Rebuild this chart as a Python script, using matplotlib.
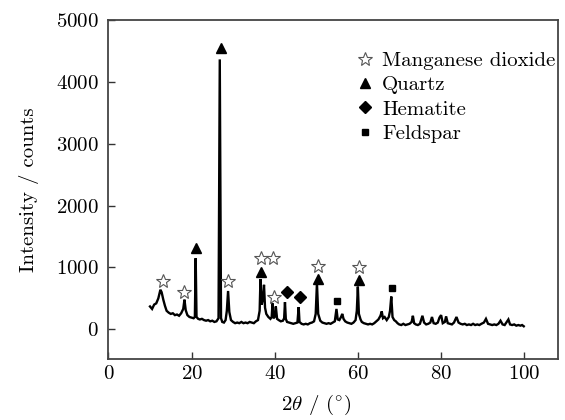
import matplotlib
matplotlib.use("Agg")
import matplotlib.pyplot as plt
from matplotlib.lines import Line2D

plt.rcParams['font.family'] = ['cmr10', 'DejaVu Serif']
plt.rcParams['mathtext.fontset'] = 'cm'
plt.rcParams['axes.formatter.use_mathtext'] = True
plt.rcParams['axes.unicode_minus'] = False

# XRD pattern
two_theta = [10.0, 10.5, 11.0, 11.5, 12.0, 12.5, 12.8, 13.2, 13.6, 14.0, 14.5, 15.0, 15.5, 16.0,
             16.5, 17.0, 17.5, 18.0, 18.3, 18.6, 19.0, 19.5, 20.0, 20.5, 20.8, 21.0, 21.2, 21.6,
             22.0, 22.5, 23.0, 23.5, 24.0, 24.5, 25.0, 25.5, 26.0, 26.5, 26.8, 27.1, 27.4, 27.8,
             28.2, 28.5, 28.8, 29.1, 29.5, 30.0, 30.5, 31.0, 31.5, 32.0, 32.5, 33.0, 33.5, 34.0,
             34.5, 35.0, 35.5, 36.0, 36.4, 36.6, 36.9, 37.2, 37.45, 37.7, 38.0, 38.5, 39.0, 39.3,
             39.5, 39.7, 40.0, 40.3, 40.6, 41.0, 41.5, 42.0, 42.3, 42.5, 42.7, 43.0, 43.5, 44.0,
             44.5, 45.0, 45.5, 45.8, 46.0, 46.5, 47.0, 47.5, 48.0, 48.5, 49.0, 49.5, 49.9, 50.2,
             50.5, 51.0, 51.5, 52.0, 52.5, 53.0, 53.5, 54.0, 54.5, 54.9, 55.2, 55.6, 56.0, 56.3,
             56.6, 57.0, 57.5, 58.0, 58.5, 59.0, 59.5, 59.8, 60.05, 60.3, 60.7, 61.0, 61.5, 62.0,
             62.5, 63.0, 63.5, 64.0, 64.5, 65.0, 65.5, 65.8, 66.1, 66.5, 67.0, 67.5, 67.8, 68.1,
             68.4, 68.8, 69.2, 69.6, 70.0, 70.5, 71.0, 71.5, 72.0, 72.5, 73.0, 73.3, 73.6, 74.0,
             74.5, 75.0, 75.6, 76.0, 76.5, 77.0, 77.5, 77.9, 78.3, 78.8, 79.3, 79.7, 80.1, 80.5,
             81.0, 81.3, 81.7, 82.2, 82.7, 83.2, 83.8, 84.3, 84.8, 85.3, 85.8, 86.3, 86.8, 87.3,
             87.8, 88.3, 88.8, 89.3, 89.8, 90.4, 90.9, 91.4, 91.9, 92.4, 92.9, 93.4, 93.9, 94.4,
             94.9, 95.4, 95.9, 96.3, 96.7, 97.2, 97.7, 98.2, 98.7, 99.2, 99.6, 100.0]
intensity = [370, 330, 400, 420, 500, 640, 600, 480, 380, 300, 270, 250, 260, 230,
             240, 220, 260, 330, 480, 310, 230, 200, 190, 180, 200, 1150, 200, 170,
             160, 170, 150, 140, 150, 130, 140, 120, 130, 180, 4360, 180, 120, 110,
             150, 300, 620, 280, 150, 120, 100, 110, 100, 120, 100, 110, 100, 120,
             110, 100, 130, 150, 300, 810, 400, 500, 720, 350, 250, 200, 170, 200,
             420, 180, 200, 370, 170, 150, 130, 140, 180, 440, 170, 120, 110, 100,
             90, 100, 110, 360, 120, 90, 80, 90, 80, 100, 110, 130, 250, 750,
             250, 140, 110, 100, 90, 100, 90, 110, 130, 330, 160, 150, 200, 250,
             170, 130, 110, 100, 90, 110, 150, 300, 690, 250, 160, 120, 100, 90,
             80, 90, 80, 100, 130, 160, 220, 290, 180, 200, 150, 200, 300, 530,
             200, 150, 130, 100, 80, 70, 90, 70, 80, 90, 120, 220, 100, 80,
             70, 90, 220, 110, 80, 90, 110, 200, 100, 90, 110, 190, 230, 100,
             120, 210, 100, 90, 80, 110, 200, 110, 90, 80, 90, 70, 80, 70,
             90, 70, 80, 70, 90, 110, 170, 90, 80, 70, 80, 70, 90, 140,
             80, 70, 120, 160, 80, 70, 80, 60, 70, 60, 70, 50]

# phase markers (2theta, intensity)
mno2_x = [13.1, 18.3, 28.9, 36.8, 39.5, 39.8, 50.4, 60.3]
mno2_y = [780, 610, 780, 1145, 1145, 530, 1020, 1005]
quartz_x = [21.1, 27.2, 36.7, 50.4, 60.3]
quartz_y = [1310, 4540, 920, 820, 790]
hematite_x = [42.9, 46.2]
hematite_y = [600, 530]
feldspar_x = [55.1, 68.2]
feldspar_y = [460, 665]

legend_labels = ['Manganese dioxide', 'Quartz', 'Hematite', 'Feldspar']

FS = 15

fig = plt.figure(figsize=(5.65, 4.2), dpi=100)
ax = fig.add_axes([0.192, 0.145, 0.796, 0.808])

ax.plot(two_theta, intensity, color='black', lw=1.7, solid_joinstyle='miter')

star_kw = dict(marker='*', ms=10, mfc='white', mec='#555555', mew=0.8, ls='none')
tri_kw = dict(marker='^', ms=6.5, color='black', ls='none')
dia_kw = dict(marker='D', ms=6, color='black', ls='none')
sq_kw = dict(marker='s', ms=4.5, color='black', ls='none')

ax.plot(mno2_x, mno2_y, **star_kw)
ax.plot(quartz_x, quartz_y, **tri_kw)
ax.plot(hematite_x, hematite_y, **dia_kw)
ax.plot(feldspar_x, feldspar_y, **sq_kw)

handles = [Line2D([], [], **star_kw), Line2D([], [], **tri_kw),
           Line2D([], [], **dia_kw), Line2D([], [], **sq_kw)]
ax.legend(handles, legend_labels, loc='upper left', frameon=False, fontsize=FS,
          handletextpad=0.3, handlelength=1.0, labelspacing=0.27,
          borderaxespad=0, borderpad=0, bbox_to_anchor=(0.548, 0.906))

ax.set_xlim(0, 108.3)
ax.set_ylim(-480, 5000)
ax.set_xticks([0, 20, 40, 60, 80, 100])
ax.set_yticks([0, 1000, 2000, 3000, 4000, 5000])
ax.tick_params(direction='in', length=5, width=1, labelsize=FS, colors='#333333',
               labelcolor='black', top=False, right=False)
ax.tick_params(axis='x', pad=4)
ax.tick_params(axis='y', pad=7)
for s in ax.spines.values():
    s.set_color('#444444')
    s.set_linewidth(1.3)

ax.set_xlabel(r'$2\theta$ / ($^{\circ}$)', fontsize=FS)
ax.xaxis.set_label_coords(50 / 108.3, -0.1)
ax.set_ylabel('Intensity / counts', fontsize=FS, labelpad=12)

fig.savefig('out.png', dpi=100)
